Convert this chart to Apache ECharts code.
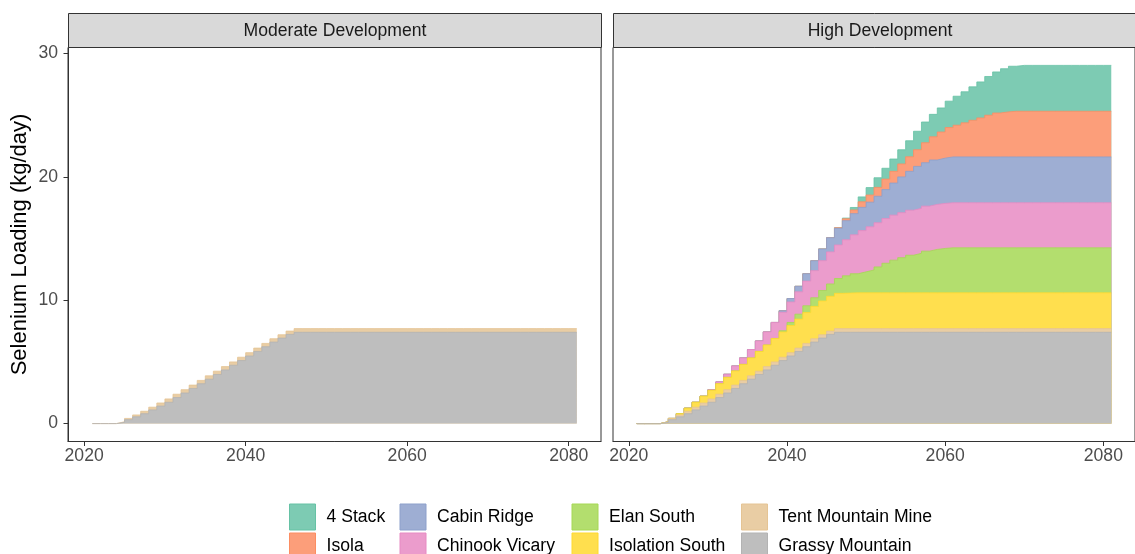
<!DOCTYPE html>
<html><head><meta charset="utf-8">
<script src="https://cdn.jsdelivr.net/npm/echarts@6/dist/echarts.min.js"></script>
<style>html,body{margin:0;padding:0;background:#fff}#c{width:1135px;height:554px}</style>
</head><body><div id="c"></div>
<script>
// ---------- DATA ----------
const years = [
  2021,2022,2023,2024,2025,2026,2027,2028,2029,2030,
  2031,2032,2033,2034,2035,2036,2037,2038,2039,2040,
  2041,2042,2043,2044,2045,2046,2047,2048,2049,2050,
  2051,2052,2053,2054,2055,2056,2057,2058,2059,2060,
  2061,2062,2063,2064,2065,2066,2067,2068,2069,2070,
  2071,2072,2073,2074,2075,2076,2077,2078,2079,2080,
  2081];
const panels = ['Moderate Development', 'High Development'];
const xTicks = [2020, 2040, 2060, 2080];
const yTicks = [0, 10, 20, 30];

const grassyMountain = [
  0,0,0,0.1,0.32,0.55,0.8,1.11,1.42,1.73,
  2.11,2.48,2.85,3.23,3.6,3.98,4.35,4.73,5.11,5.48,
  5.85,6.23,6.61,6.93,7.23,7.4,7.4,7.4,7.4,7.4,
  7.4,7.4,7.4,7.4,7.4,7.4,7.4,7.4,7.4,7.4,
  7.4,7.4,7.4,7.4,7.4,7.4,7.4,7.4,7.4,7.4,
  7.4,7.4,7.4,7.4,7.4,7.4,7.4,7.4,7.4,7.4,
  7.4];
const tentMountainMine = [
  0,0,0,0.05,0.1,0.15,0.2,0.22,0.25,0.27,
  0.27,0.27,0.27,0.27,0.27,0.27,0.27,0.27,0.27,0.27,
  0.27,0.27,0.27,0.27,0.27,0.3,0.3,0.3,0.3,0.3,
  0.3,0.3,0.3,0.3,0.3,0.3,0.3,0.3,0.3,0.3,
  0.3,0.3,0.3,0.3,0.3,0.3,0.3,0.3,0.3,0.3,
  0.3,0.3,0.3,0.3,0.3,0.3,0.3,0.3,0.3,0.3,
  0.3];
const isolationSouth = [
  0,0,0,0,0,0.1,0.25,0.4,0.55,0.7,
  0.85,1.0,1.15,1.3,1.45,1.6,1.75,1.9,2.05,2.2,
  2.35,2.5,2.62,2.74,2.82,2.86,2.88,2.9,2.9,2.9,
  2.9,2.9,2.9,2.9,2.9,2.9,2.9,2.9,2.9,2.9,
  2.9,2.9,2.9,2.9,2.9,2.9,2.9,2.9,2.9,2.9,
  2.9,2.9,2.9,2.9,2.9,2.9,2.9,2.9,2.9,2.9,
  2.9];
const elanSouth = [
  0,0,0,0,0,0,0,0,0,0,
  0,0,0,0,0,0,0,0,0.1,0.25,
  0.4,0.55,0.7,0.85,1.0,1.2,1.4,1.55,1.7,1.85,
  2.1,2.4,2.65,2.85,3.05,3.2,3.38,3.52,3.6,3.65,
  3.65,3.65,3.65,3.65,3.65,3.65,3.65,3.65,3.65,3.65,
  3.65,3.65,3.65,3.65,3.65,3.65,3.65,3.65,3.65,3.65,
  3.65];
const chinookVicary = [
  0,0,0,0,0,0,0,0,0,0.05,
  0.15,0.25,0.4,0.52,0.68,0.85,1.06,1.3,1.5,1.66,
  1.81,2.0,2.2,2.42,2.6,2.72,2.92,3.15,3.35,3.5,
  3.58,3.62,3.65,3.65,3.65,3.65,3.65,3.65,3.65,3.65,
  3.65,3.65,3.65,3.65,3.65,3.65,3.65,3.65,3.65,3.65,
  3.65,3.65,3.65,3.65,3.65,3.65,3.65,3.65,3.65,3.65,
  3.65];
const cabinRidge = [
  0,0,0,0,0,0,0,0,0,0,
  0,0,0,0,0,0,0,0,0.12,0.28,
  0.45,0.6,0.8,0.95,1.15,1.35,1.55,1.72,1.88,2.0,
  2.15,2.35,2.6,2.9,3.15,3.4,3.52,3.6,3.67,3.72,
  3.72,3.72,3.72,3.72,3.72,3.72,3.72,3.72,3.72,3.72,
  3.72,3.72,3.72,3.72,3.72,3.72,3.72,3.72,3.72,3.72,
  3.72];
const isola = [
  0,0,0,0,0,0,0,0,0,0,
  0,0,0,0,0,0,0,0,0,0,
  0,0,0,0,0,0.05,0.15,0.3,0.45,0.58,
  0.72,0.85,0.95,1.05,1.18,1.35,1.62,1.88,2.12,2.38,
  2.57,2.76,2.97,3.16,3.38,3.56,3.65,3.7,3.7,3.7,
  3.7,3.7,3.7,3.7,3.7,3.7,3.7,3.7,3.7,3.7,
  3.7];
const fourStack = [
  0,0,0,0,0,0,0,0,0,0,
  0,0,0,0,0,0,0,0,0,0,
  0,0,0,0,0,0,0.06,0.2,0.4,0.6,
  0.78,0.88,1.0,1.15,1.3,1.5,1.68,1.82,1.95,2.14,
  2.35,2.52,2.71,2.92,3.14,3.33,3.5,3.65,3.72,3.72,
  3.72,3.72,3.72,3.72,3.72,3.72,3.72,3.72,3.72,3.72,
  3.72];

const seriesNames = ['4 Stack','Isola','Cabin Ridge','Chinook Vicary','Elan South','Isolation South','Tent Mountain Mine','Grassy Mountain'];
const seriesColors = ['#66C2A5','#FC8D62','#8DA0CB','#E78AC3','#A6D854','#FFD92F','#E5C494','#B3B3B3'];
// bottom -> top stacking order per panel
const moderateStack = [['Grassy Mountain', grassyMountain], ['Tent Mountain Mine', tentMountainMine]];
const highStack = [
  ['Grassy Mountain', grassyMountain], ['Tent Mountain Mine', tentMountainMine],
  ['Isolation South', isolationSouth], ['Elan South', elanSouth],
  ['Chinook Vicary', chinookVicary], ['Cabin Ridge', cabinRidge],
  ['Isola', isola], ['4 Stack', fourStack]];

// ---------- CHART ----------
const FONT = '"Liberation Sans", Arial, Helvetica, sans-serif';
const colorOf = n => seriesColors[seriesNames.indexOf(n)];
function fillOf(n) { // colour at alpha 0.85 over white
  const h = colorOf(n), a = 0.85;
  const c = [1,3,5].map(k => Math.round(parseInt(h.slice(k,k+2),16) * a + 255 * (1 - a)));
  return 'rgb(' + c.join(',') + ')';
}
// Stacked step areas: each layer is drawn as its running total, filled down to zero,
// lower layers drawn above higher ones (like ggplot's stacked geom_area).
function buildSeries(stack, idx) {
  const running = years.map(() => 0);
  return stack.map(([name, vals], k) => {
    const tops = years.map((y, i) => (running[i] = +(running[i] + vals[i]).toFixed(4)));
    return {
      type: 'line', name: name, xAxisIndex: idx, yAxisIndex: idx,
      step: 'end', symbol: 'none', silent: true,
      z: 20 - k,
      data: years.map((y, i) => [y, tops[i]]),
      lineStyle: { color: colorOf(name), width: 0.8 },
      itemStyle: { color: fillOf(name) },
      areaStyle: { color: fillOf(name), opacity: 1, origin: 'auto' }
    };
  });
}

const gridTop = 47.5, gridH = 394, panelW = 533;
const gridLefts = [68, 613];

const grids = gridLefts.map(l => ({ left: l, top: gridTop, width: panelW, height: gridH,
  show: true, borderColor: '#333333', borderWidth: 1, backgroundColor: 'transparent' }));

const xAxes = gridLefts.map((l, i) => ({
  type: 'value', gridIndex: i, min: 2018, max: 2084,
  axisLine: { show: true, onZero: false, lineStyle: { color: '#333333', width: 1 } },
  axisTick: { show: true, length: 4.5, lineStyle: { color: '#333333', width: 1 }, customValues: xTicks },
  axisLabel: { customValues: xTicks, fontSize: 17.6, color: '#4D4D4D', fontFamily: FONT, margin: 6,
    formatter: v => String(v) },
  splitLine: { show: false }
}));
const yAxes = gridLefts.map((l, i) => ({
  type: 'value', gridIndex: i, min: -1.452, max: 30.49,
  axisLine: { show: i === 0, onZero: false, lineStyle: { color: '#333333', width: 1 } },
  axisTick: { show: i === 0, length: 4.5, lineStyle: { color: '#333333', width: 1 }, customValues: yTicks },
  axisLabel: { show: i === 0, customValues: yTicks, fontSize: 17.6, color: '#4D4D4D', fontFamily: FONT, margin: 10,
    formatter: v => String(v) },
  splitLine: { show: false },
  name: i === 0 ? 'Selenium Loading (kg/day)' : '',
  nameLocation: 'middle', nameGap: 37,
  nameTextStyle: { fontSize: 22, color: '#000000', fontFamily: FONT }
}));

const legendCols = [['4 Stack','Isola'], ['Cabin Ridge','Chinook Vicary'], ['Elan South','Isolation South'], ['Tent Mountain Mine','Grassy Mountain']];
const legendLefts = [289, 399.5, 571.5, 741];
const legends = legendCols.map((col, j) => ({
  orient: 'vertical', left: legendLefts[j], top: 503.5, height: 80, width: 220, padding: 0,
  itemWidth: 26, itemHeight: 26, itemGap: 2, icon: 'rect', selectedMode: false,
  textStyle: { fontSize: 17.6, color: '#000000', fontFamily: FONT, padding: [0, 0, 0, 6] },
  data: col.map(n => ({ name: n, icon: 'rect',
    itemStyle: { color: fillOf(n), borderColor: colorOf(n), borderWidth: 1 } }))
}));

const graphics = [];
gridLefts.forEach((l, i) => {
  graphics.push({ type: 'rect', silent: true, z: 50,
    shape: { x: l + 0.5, y: 13.5, width: panelW, height: 34 },
    style: { fill: '#D9D9D9', stroke: '#333333', lineWidth: 1 } });
  graphics.push({ type: 'text', silent: true, z: 51,
    x: l + panelW / 2 + 0.5, y: 31,
    style: { text: panels[i], fill: '#1A1A1A', font: '17.6px ' + FONT, align: 'center', verticalAlign: 'middle' } });
});

const chart = echarts.init(document.getElementById('c'), null, { renderer: 'canvas' });
chart.setOption({
  animation: false,
  backgroundColor: '#ffffff',
  grid: grids,
  xAxis: xAxes,
  yAxis: yAxes,
  legend: legends,
  graphic: graphics,
  series: buildSeries(moderateStack, 0).concat(buildSeries(highStack, 1))
});
</script>
</body></html>
